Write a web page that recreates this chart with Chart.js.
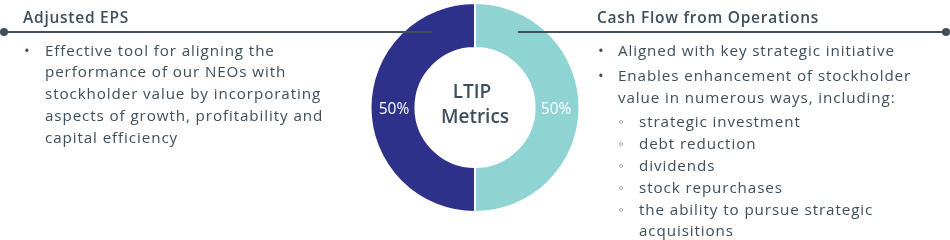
<!DOCTYPE html>
<html>
<head>
<meta charset="utf-8">
<script src="https://cdn.jsdelivr.net/npm/chart.js@4/dist/chart.umd.min.js"></script>
<style>
  html, body { margin: 0; padding: 0; background: #fff; }
  #wrap { position: relative; width: 950px; height: 240px; overflow: hidden;
          font-family: "Open Sans", sans-serif; color: #3e4f5b; }
  #chart { position: absolute; left: 0; top: 0; }
  .head { position: absolute; font-weight: 600; font-size: 15.5px; line-height: 20px; z-index: 2; letter-spacing: 0.75px; }
  .rule { position: absolute; height: 2px; background: #3f505c; z-index: 2; }
  .dot { position: absolute; width: 8px; height: 8px; border-radius: 50%; background: #3f505c; z-index: 2; }
  .txt { position: absolute; font-size: 15.2px; line-height: 21.8px; z-index: 2; white-space: nowrap; letter-spacing: 0.9px; }
  .b { position: absolute; }
</style>
</head>
<body>
<div id="wrap">
  <canvas id="chart" width="950" height="240"></canvas>

  <div class="head" style="left:23px; top:7px;">Adjusted EPS</div>
  <div class="rule" style="left:4px; top:31px; width:428px;"></div>
  <div class="dot" style="left:0px; top:28px;"></div>

  <div class="head" style="left:597px; top:7px;">Cash Flow from Operations</div>
  <div class="rule" style="left:518px; top:31px; width:428px;"></div>
  <div class="dot" style="left:942px; top:28px;"></div>

  <div class="txt" id="leftText" style="left:0; top:39.5px;"></div>
  <div class="txt" id="rightText" style="left:0; top:39.5px;"></div>
</div>

<script>
// Slices (clockwise from 12 o'clock)
const labels = ['Cash Flow from Operations', 'Adjusted EPS'];
const weights = [50, 50];
const sliceColors = ['#8fd4d2', '#2d3189'];
const centerLines = ['LTIP', 'Metrics'];

// Side text
const leftBullets = [
  ['Effective tool for aligning the', 'performance of our NEOs with',
   'stockholder value by incorporating', 'aspects of growth, profitability and',
   'capital efficiency']
];
const rightBullets = [
  ['Aligned with key strategic initiative'],
  ['Enables enhancement of stockholder', 'value in numerous ways, including:']
];
const rightSubBullets = [
  ['strategic investment'],
  ['debt reduction'],
  ['dividends'],
  ['stock repurchases'],
  ['the ability to pursue strategic', 'acquisitions']
];

const LH = 21.8;

function renderList(el, items, bulletX, textX, bulletChar, startY, gap) {
  let y = startY;
  let html = '';
  items.forEach(lines => {
    html += `<div class="b" style="left:${bulletX}px; top:${y}px;">${bulletChar}</div>`;
    lines.forEach(line => {
      html += `<div class="b" style="left:${textX}px; top:${y}px;">${line}</div>`;
      y += LH;
    });
    y += gap;
  });
  el.innerHTML += html;
  return y;
}

renderList(document.getElementById('leftText'), leftBullets, 24, 45, '•', 0, 0);
const rt = document.getElementById('rightText');
let ny = renderList(rt, rightBullets, 598, 618, '•', 0, 3.5);
renderList(rt, rightSubBullets, 619, 639, '<span style="font-size:13px;position:relative;top:-1px">◦</span>', ny - 0.5, 0);

// Center label + percentage labels
const donutText = {
  id: 'donutText',
  afterDatasetsDraw(chart) {
    const { ctx } = chart;
    const meta = chart.getDatasetMeta(0);
    const arc = meta.data[0];
    const cx = arc.x;
    ctx.save();
    ctx.textAlign = 'center';
    ctx.textBaseline = 'alphabetic';
    ctx.fillStyle = '#3e4f5b';
    ctx.font = '600 19px "Open Sans"';
    ctx.fillText(centerLines[0], cx - 3, 98);
    ctx.fillText(centerLines[1], cx, 123);

    ctx.fillStyle = '#ffffff';
    ctx.font = '500 15.5px "Open Sans"';
    meta.data.forEach((a, i) => {
      const p = a.getCenterPoint();
      ctx.fillText(weights[i] + '%', p.x + (i === 0 ? -1 : 1), p.y + 6);
    });
    ctx.restore();
  }
};

new Chart(document.getElementById('chart'), {
  type: 'doughnut',
  data: {
    labels: labels,
    datasets: [{
      data: weights,
      backgroundColor: sliceColors,
      borderColor: '#ffffff',
      borderWidth: 2,
      hoverOffset: 0
    }]
  },
  options: {
    responsive: false,
    animation: false,
    cutout: '57%',
    layout: { padding: { top: 2, bottom: 27 } },
    plugins: {
      legend: { display: false },
      tooltip: { enabled: false }
    }
  },
  plugins: [donutText]
});
</script>
</body>
</html>
